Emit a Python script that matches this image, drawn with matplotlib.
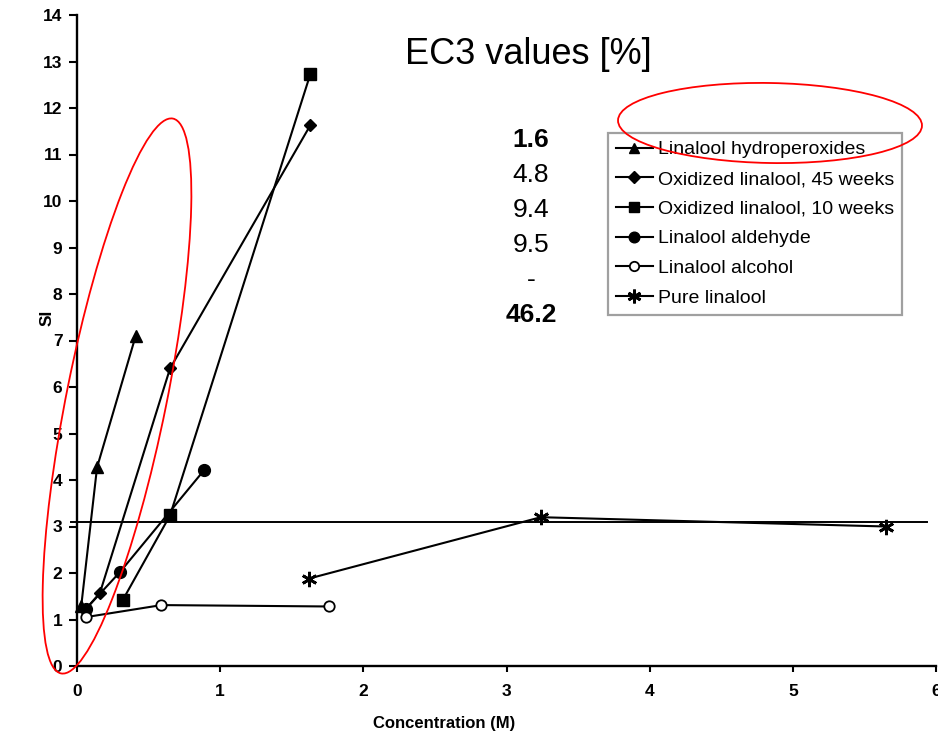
import matplotlib
matplotlib.use("Agg")
import matplotlib.pyplot as plt
from matplotlib.patches import Ellipse
from matplotlib.transforms import IdentityTransform

plt.rcParams["font.family"] = ["Liberation Sans", "DejaVu Sans"]

# ---------------- data ----------------
hydro_x = [0.03, 0.14, 0.41]
hydro_y = [1.30, 4.27, 7.10]

ox45_x = [0.06, 0.16, 0.65, 1.63]
ox45_y = [1.22, 1.57, 6.40, 11.63]

ox10_x = [0.32, 0.65, 1.63]
ox10_y = [1.42, 3.24, 12.73]

ald_x = [0.06, 0.30, 0.89]
ald_y = [1.22, 2.02, 4.22]

alc_x = [0.06, 0.59, 1.76]
alc_y = [1.05, 1.31, 1.28]

pure_x = [1.62, 3.24, 5.65]
pure_y = [1.88, 3.20, 3.00]

threshold = 3.1

labels = ["Linalool hydroperoxides", "Oxidized linalool, 45 weeks",
          "Oxidized linalool, 10 weeks", "Linalool aldehyde",
          "Linalool alcohol", "Pure linalool"]
ec3_values = ["1.6", "4.8", "9.4", "9.5", "-", "46.2"]
ec3_bold = [True, False, False, False, False, True]

# ---------------- figure ----------------
W, H = 938, 737
fig = plt.figure(figsize=(W / 100, H / 100), dpi=100)
ax = fig.add_axes([77 / W, 1 - 666 / H, (936 - 77) / W, (666 - 15) / H])

lw = 1.5
kw = dict(color="black", lw=lw, clip_on=False, zorder=3)
ax.plot(hydro_x, hydro_y, marker="^", ms=8.5, label=labels[0], **kw)
ax.plot(ox45_x, ox45_y, marker="D", ms=6.5, label=labels[1], **kw)
ax.plot(ox10_x, ox10_y, marker="s", ms=8.5, label=labels[2], **kw)
ax.plot(ald_x, ald_y, marker="o", ms=8.5, label=labels[3], **kw)
ax.plot(alc_x, alc_y, marker="o", ms=7.5, mfc="white", mew=1.3, label=labels[4], **kw)
ax.plot(pure_x, pure_y, marker=(6, 2, 0), ms=11, mew=2.0, label=labels[5], **kw)

ax.plot([-0.04, 5.94], [threshold, threshold], color="black", lw=1.4,
        clip_on=False, zorder=2)

ax.set_xlim(0, 6)
ax.set_ylim(0, 14)
ax.set_xticks(range(0, 7))
ax.set_yticks(range(0, 15))
for s in ["top", "right"]:
    ax.spines[s].set_visible(False)
for s in ["left", "bottom"]:
    ax.spines[s].set_linewidth(1.7)
ax.tick_params(direction="out", width=1.5, labelsize=12.5)
ax.tick_params(axis="x", length=4, pad=9)
ax.tick_params(axis="y", length=6, pad=4.5)
for t in ax.get_xticklabels() + ax.get_yticklabels():
    t.set_fontweight("bold")

ax.set_xlabel("Concentration (M)", fontsize=12, fontweight="bold")
ax.set_ylabel("SI", fontsize=12.5, fontweight="bold")
ax.xaxis.set_label_coords((444 - 77) / 859, (666 - 716) / 651)
ax.yaxis.set_label_coords((55 - 77) / 859, (666 - 318) / 651)

leg = ax.legend(loc="upper left", bbox_to_anchor=(608 / W, 1 - 133 / H),
                bbox_transform=fig.transFigure, borderaxespad=0,
                fontsize=14.0, handlelength=1.9, handletextpad=0.25,
                labelspacing=0.62, borderpad=0.4, fancybox=False,
                frameon=True, markerscale=0.9)
leg.get_frame().set_edgecolor("#888888")
leg.get_frame().set_linewidth(1.6)

# EC3 annotation
fig.text(405 / W, 1 - 55 / H, "EC3 values [%]", fontsize=26,
         ha="left", va="center")
for i, (val, bold) in enumerate(zip(ec3_values, ec3_bold)):
    fig.text(531 / W, 1 - (140 + i * 35) / H, val, fontsize=19,
             ha="center", va="center",
             fontweight="bold" if bold else "normal")

# red highlight ellipses (pixel coordinates)
fig.add_artist(Ellipse((117, H - 396), 566, 100, angle=78.6, fill=False,
                       edgecolor="red", lw=1.3, transform=IdentityTransform()))
fig.add_artist(Ellipse((770, H - 123), 304, 80, angle=-1, fill=False,
                       edgecolor="red", lw=1.3, transform=IdentityTransform()))

fig.savefig("out.png", dpi=100)
